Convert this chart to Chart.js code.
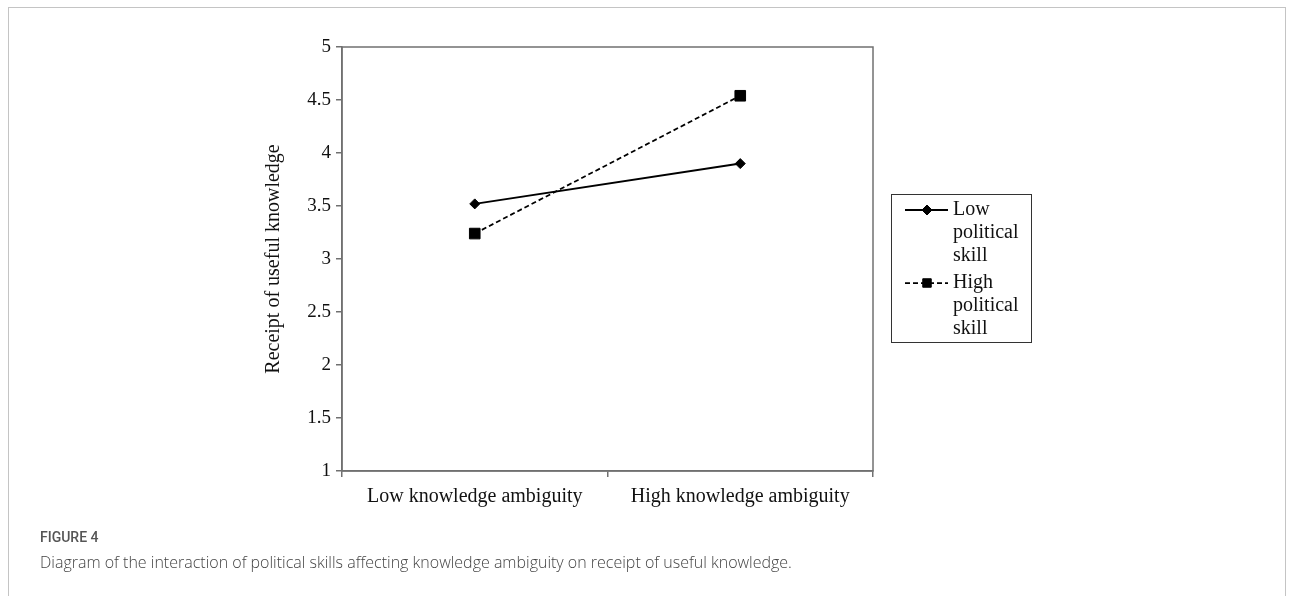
<!DOCTYPE html>
<html>
<head>
<meta charset="utf-8">
<script src="https://cdn.jsdelivr.net/npm/chart.js@4"></script>
<style>
  html, body { margin: 0; padding: 0; background: #fff; }
  body { width: 1293px; height: 596px; position: relative; overflow: hidden; }
  .card { position: absolute; left: 8px; top: 7px; width: 1278px; height: 640px; border: 1px solid #c4c4c4; box-sizing: border-box; }
  #chart { position: absolute; left: 0; top: 0; }
  .fig-label { position: absolute; left: 40px; top: 529px; font-family: Roboto, sans-serif; font-size: 14px; font-weight: 500; color: #555; }
  .fig-caption { position: absolute; left: 40px; top: 551px; font-family: "Open Sans", sans-serif; font-size: 16px; font-weight: 300; color: #444; white-space: nowrap; }
</style>
</head>
<body>
<div class="card"></div>
<canvas id="chart" width="1293" height="596"></canvas>
<div class="fig-label">FIGURE 4</div>
<div class="fig-caption">Diagram of the interaction of political skills affecting knowledge ambiguity on receipt of useful knowledge.</div>

<script>
// données
const categories = ['Low knowledge ambiguity', 'High knowledge ambiguity'];
const lowSkill = [3.52, 3.90];
const highSkill = [3.24, 4.54];
const seriesNames = ['Low political skill', 'High political skill'];
const yMin = 1;
const yMax = 5;
const yStep = 0.5;

const serif = "'Liberation Serif', 'Times New Roman', serif";
const axisColor = '#707070';

/*
Plugin qui trace le cadre autour de la zone du graphique
*/
const frame = {
    id: 'frame',
    afterDatasetsDraw(chart) {
        const a = chart.chartArea;
        const ctx = chart.ctx;
        ctx.save();
        ctx.strokeStyle = axisColor;
        ctx.lineWidth = 1.5;
        ctx.strokeRect(a.left, a.top, a.right - a.left, a.bottom - a.top);
        ctx.restore();
    }
};

/*
Plugin pour la légende encadrée à droite (un mot par ligne comme sur l'original)
*/
const boxLegend = {
    id: 'boxLegend',
    afterDraw(chart) {
        const a = chart.chartArea;
        const ctx = chart.ctx;
        const left = a.right + 18;
        const top = a.top + 147;
        const w = 140, h = 148;
        const lineH = 23;

        ctx.save();
        ctx.strokeStyle = '#333';
        ctx.lineWidth = 1;
        ctx.strokeRect(left + 0.5, top + 0.5, w, h);

        ctx.font = '20px ' + serif;
        ctx.textBaseline = 'middle';

        let y = top + 16;
        chart.data.datasets.forEach((ds) => {
            const words = ds.label.split(' ');
            // échantillon de ligne
            ctx.strokeStyle = '#000';
            ctx.lineWidth = ds.borderWidth;
            ctx.setLineDash(ds.borderDash || []);
            ctx.beginPath();
            ctx.moveTo(left + 14, y);
            ctx.lineTo(left + 57, y);
            ctx.stroke();
            ctx.setLineDash([]);
            ctx.fillStyle = '#000';
            ctx.lineWidth = 1;
            Chart.helpers.drawPoint(ctx, {
                pointStyle: ds.pointStyle,
                radius: ds.pointStyle === 'rect' ? 6 : 5,
                borderWidth: 1
            }, left + 36, y);

            ctx.fillStyle = '#111';
            words.forEach((wd, i) => {
                ctx.fillText(wd, left + 62, y + i * lineH);
            });
            y += words.length * lineH + 4;
        });
        ctx.restore();
    }
};

const ctx = document.getElementById('chart');

new Chart(ctx, {
    type: 'line',
    data: {
        labels: categories,
        datasets: [
            {
                label: seriesNames[0],
                data: lowSkill,
                borderColor: '#000',
                backgroundColor: '#000',
                borderWidth: 2,
                pointStyle: 'rectRot',
                pointRadius: 5,
                pointBorderWidth: 1,
                tension: 0
            },
            {
                label: seriesNames[1],
                data: highSkill,
                borderColor: '#000',
                backgroundColor: '#000',
                borderWidth: 1.75,
                borderDash: [5, 3],
                pointStyle: 'rect',
                pointRadius: 7.5,
                pointBorderWidth: 1,
                tension: 0
            }
        ]
    },
    options: {
        responsive: false,
        animation: false,
        devicePixelRatio: 1,
        layout: {
            padding: { left: 262, top: 47, right: 420, bottom: 85 }
        },
        scales: {
            x: {
                offset: true,
                afterFit(scale) { scale.height = 40; },
                grid: {
                    offset: true,
                    drawOnChartArea: false,
                    drawTicks: true,
                    tickLength: 6,
                    color: axisColor,
                    lineWidth: 1.5
                },
                border: { color: axisColor, width: 1.5 },
                ticks: {
                    padding: 8,
                    color: '#111',
                    font: { family: serif, size: 20 }
                }
            },
            y: {
                min: yMin,
                max: yMax,
                afterFit(scale) { scale.width = 80; },
                grid: {
                    drawOnChartArea: false,
                    drawTicks: true,
                    tickLength: 6,
                    color: axisColor,
                    lineWidth: 1.5
                },
                border: { color: axisColor, width: 1.5 },
                ticks: {
                    stepSize: yStep,
                    padding: 5,
                    color: '#111',
                    font: { family: serif, size: 19 },
                    // 5 et non 5.0, comme sur la figure
                    callback: (value) => String(Number(value))
                },
                title: {
                    display: true,
                    text: 'Receipt of useful knowledge',
                    color: '#111',
                    padding: 0,
                    font: { family: serif, size: 20 }
                }
            }
        },
        plugins: {
            legend: { display: false },
            tooltip: { enabled: false }
        }
    },
    plugins: [frame, boxLegend]
});
</script>
</body>
</html>
